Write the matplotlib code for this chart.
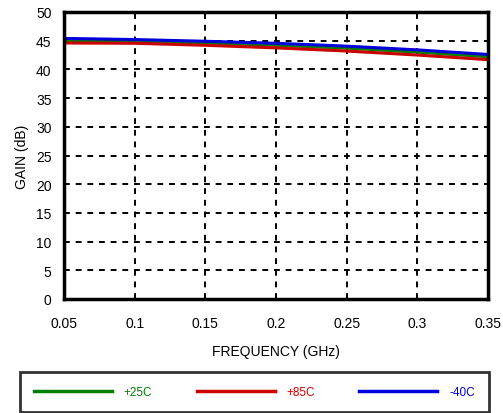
import matplotlib
matplotlib.use("Agg")
import matplotlib.pyplot as plt

plt.rcParams['font.family'] = ['Liberation Sans', 'DejaVu Sans']

freq = [0.05, 0.1, 0.15, 0.2, 0.25, 0.3, 0.35]
gain_25 = [45.0, 44.9, 44.6, 44.2, 43.7, 43.0, 42.2]
gain_85 = [44.6, 44.55, 44.2, 43.75, 43.2, 42.5, 41.7]
gain_m40 = [45.4, 45.2, 44.9, 44.55, 44.05, 43.4, 42.6]

xticks = [0.05, 0.1, 0.15, 0.2, 0.25, 0.3, 0.35]
xticklabels = ['0.05', '0.1', '0.15', '0.2', '0.25', '0.3', '0.35']
yticks = list(range(0, 51, 5))

W, H = 503, 414
fig = plt.figure(figsize=(W/100, H/100), dpi=100)
ax = fig.add_axes([64/W, 1-300/H, (488-64)/W, (300-13)/H])

l1, = ax.plot(freq, gain_25, color='#008000', lw=2.2, label='+25C')
l2, = ax.plot(freq, gain_85, color='#cc0000', lw=2.2, label='+85C')
l3, = ax.plot(freq, gain_m40, color='#0000dd', lw=2.2, label='-40C')

ax.set_xlim(0.05, 0.35)
ax.set_ylim(0, 50)
ax.set_xticks(xticks)
ax.set_xticklabels(xticklabels)
ax.set_yticks(yticks)
ax.tick_params(length=0, labelsize=10)
ax.tick_params(axis='y', pad=9)
ax.tick_params(axis='x', pad=12)
ax.grid(True, color='black', linestyle=(0, (3, 3)), linewidth=1.4)
for s in ax.spines.values():
    s.set_linewidth(2.5)
ax.set_xlabel('FREQUENCY (GHz)', fontsize=10, labelpad=10)
ax.set_ylabel('GAIN (dB)', fontsize=10, labelpad=5)

leg = fig.legend(handles=[l1, l2, l3], loc='lower left',
                 bbox_to_anchor=(20/W, 1-413/H, 469/W, 39/H), mode='expand',
                 ncol=3, fontsize=8.5, handlelength=6.6, handletextpad=1.0,
                 labelcolor='linecolor', fancybox=False, edgecolor='black',
                 borderaxespad=0, borderpad=1.2)
leg.get_frame().set_linewidth(2)
for line in leg.get_lines():
    line.set_linewidth(2.5)

fig.savefig('out.png', dpi=100)
